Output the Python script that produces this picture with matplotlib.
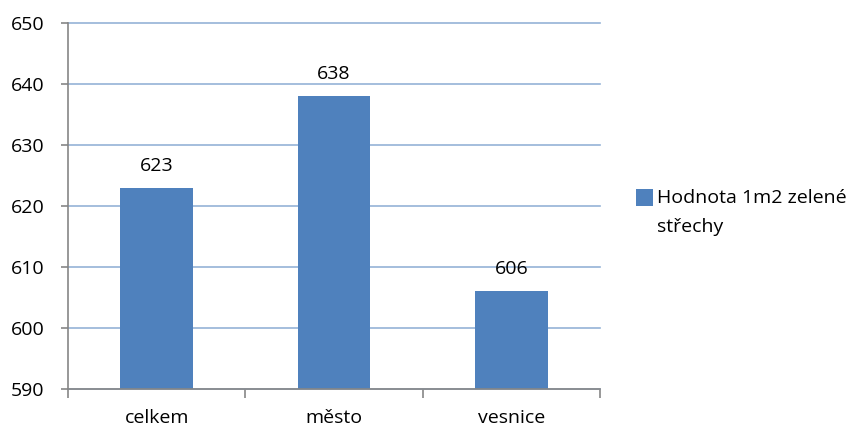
import matplotlib
matplotlib.use("Agg")
import matplotlib.pyplot as plt
from matplotlib.patches import Rectangle
import numpy as np

categories = ["celkem", "město", "vesnice"]
values = [623, 638, 606]
series_name = "Hodnota 1m2 zelené\nstřechy"
yticks = [590, 600, 610, 620, 630, 640, 650]

plt.rcParams['font.family'] = ['Open Sans', 'DejaVu Sans']

W, H = 851, 428
fig = plt.figure(figsize=(W / 100, H / 100), dpi=100)
ax = fig.add_axes([68 / W, 1 - 389 / H, (600 - 68) / W, (389 - 23) / H])

bar_color = "#4F81BD"
x = np.arange(len(categories))
ax.bar(x, values, width=0.41, color=bar_color, zorder=3)
ax.set_xlim(-0.5, len(categories) - 0.5)
ax.set_ylim(590, 650)
ax.set_yticks(yticks)
ax.set_yticklabels([str(v) for v in yticks], fontsize=14, color="#000000")

ax.set_xticks(np.arange(-0.5, len(categories), 1.0))
ax.set_xticklabels([])
ax.set_xticks(x, minor=True)
ax.set_xticklabels(categories, minor=True, fontsize=14)
ax.tick_params(axis='x', which='minor', length=0, pad=14.5)
ax.tick_params(axis='x', which='major', length=6.5, width=1.2, color="#868686", direction='out')
ax.tick_params(axis='y', length=5, width=1.2, color="#868686", direction='out', pad=12)

ax.grid(axis='y', color="#95B3D7", linewidth=1.2, zorder=0)
for gl in ax.get_ygridlines():
    gl.set_clip_on(False)
for s in ['top', 'right']:
    ax.spines[s].set_visible(False)
for s in ['left', 'bottom']:
    ax.spines[s].set_color("#868686")
    ax.spines[s].set_linewidth(1.2)
    ax.spines[s].set_zorder(4)

for xi, v in zip(x, values):
    ax.annotate(str(v), (xi, v), xytext=(0, 9.5), textcoords='offset points',
                ha='center', va='bottom', fontsize=14)

# legend (manual, so the key aligns with the first text line)
fig.patches.append(Rectangle((636 / W, 1 - 206 / H), 17 / W, 17 / H,
                             transform=fig.transFigure, facecolor=bar_color,
                             edgecolor='none'))
fig.text(657 / W, 1 - 198 / H, series_name.split("\n")[0], fontsize=14,
         ha='left', va='center')
fig.text(657 / W, 1 - 227 / H, series_name.split("\n")[1], fontsize=14,
         ha='left', va='center')

fig.savefig("out.png", dpi=100)
